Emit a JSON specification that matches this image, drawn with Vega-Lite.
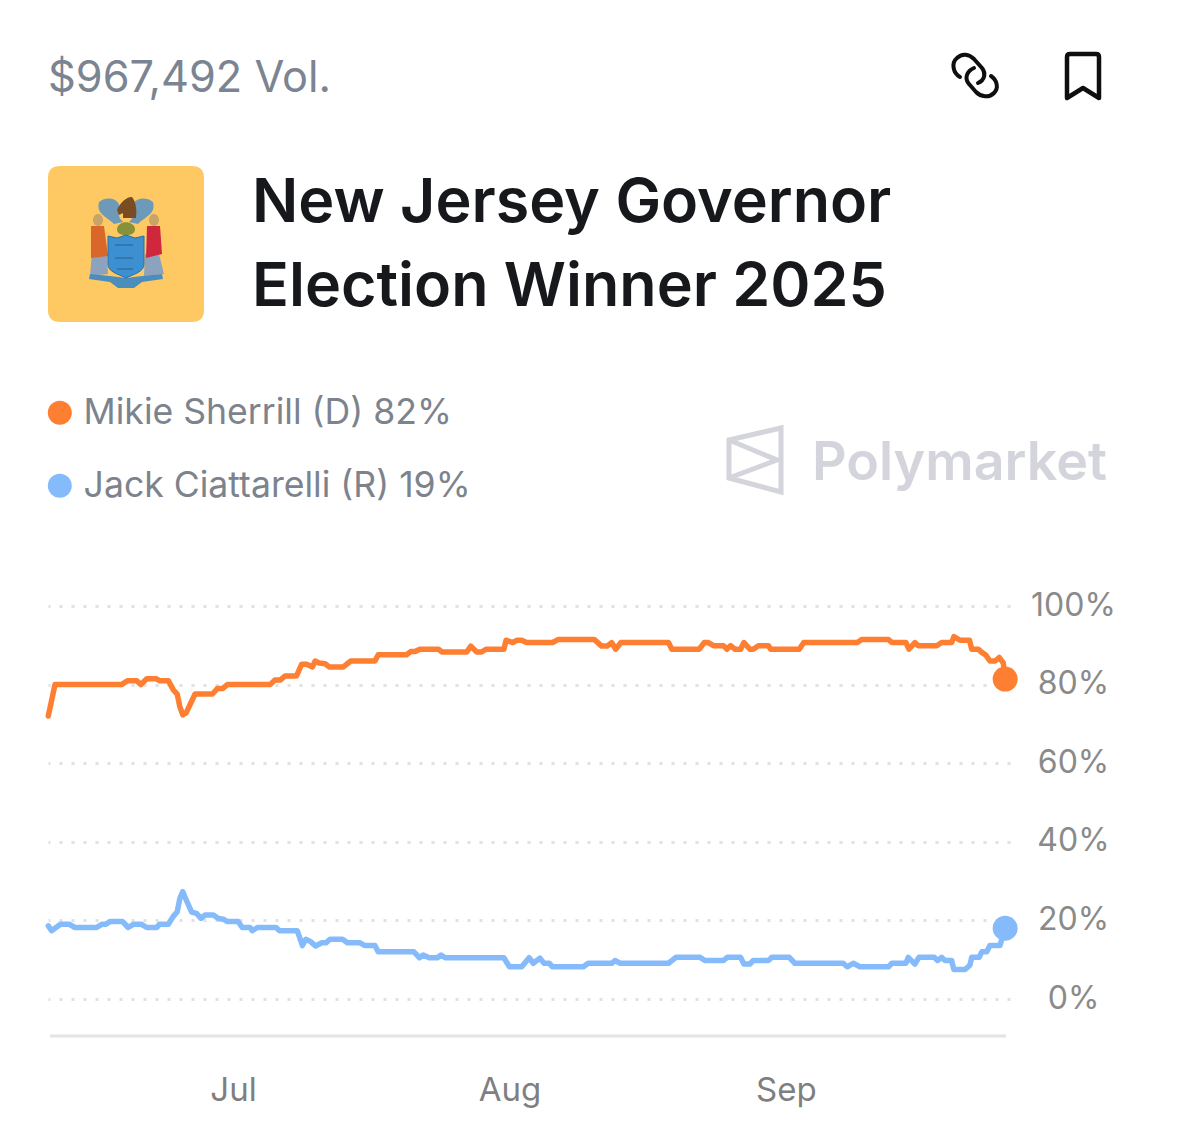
{
  "$schema": "https://vega.github.io/schema/vega-lite/v6.json",
  "width": 962,
  "height": 430,
  "padding": {"left": 48, "top": 606, "right": 169, "bottom": 100},
  "autosize": "none",
  "background": "#ffffff",
  "view": {"stroke": null},
  "title": {
    "text": ["New Jersey Governor", "Election Winner 2025"],
    "anchor": "start",
    "frame": "group",
    "dx": 204,
    "offset": -272,
    "font": "Inter",
    "fontSize": 61,
    "fontWeight": 600,
    "lineHeight": 84,
    "color": "#17181c"
  },
  "data": {"values": [
    {"date":"2025-06-10 07:00","series":"Mikie Sherrill (D) 82%","value":72},
    {"date":"2025-06-11 01:00","series":"Mikie Sherrill (D) 82%","value":80},
    {"date":"2025-06-18 12:00","series":"Mikie Sherrill (D) 82%","value":80},
    {"date":"2025-06-19 04:00","series":"Mikie Sherrill (D) 82%","value":81},
    {"date":"2025-06-20 05:00","series":"Mikie Sherrill (D) 82%","value":81},
    {"date":"2025-06-20 16:00","series":"Mikie Sherrill (D) 82%","value":80},
    {"date":"2025-06-21 08:00","series":"Mikie Sherrill (D) 82%","value":81.5},
    {"date":"2025-06-22 09:00","series":"Mikie Sherrill (D) 82%","value":81.5},
    {"date":"2025-06-22 18:00","series":"Mikie Sherrill (D) 82%","value":81},
    {"date":"2025-06-23 18:00","series":"Mikie Sherrill (D) 82%","value":81},
    {"date":"2025-06-24 08:00","series":"Mikie Sherrill (D) 82%","value":78.6},
    {"date":"2025-06-24 18:00","series":"Mikie Sherrill (D) 82%","value":77.6},
    {"date":"2025-06-25 01:00","series":"Mikie Sherrill (D) 82%","value":74.4},
    {"date":"2025-06-25 09:00","series":"Mikie Sherrill (D) 82%","value":72.3},
    {"date":"2025-06-25 18:00","series":"Mikie Sherrill (D) 82%","value":72.8},
    {"date":"2025-06-26 18:00","series":"Mikie Sherrill (D) 82%","value":77.6},
    {"date":"2025-06-28 17:00","series":"Mikie Sherrill (D) 82%","value":77.6},
    {"date":"2025-06-29 06:00","series":"Mikie Sherrill (D) 82%","value":79},
    {"date":"2025-06-29 20:00","series":"Mikie Sherrill (D) 82%","value":79},
    {"date":"2025-06-30 09:00","series":"Mikie Sherrill (D) 82%","value":80},
    {"date":"2025-07-05 04:00","series":"Mikie Sherrill (D) 82%","value":80},
    {"date":"2025-07-05 17:00","series":"Mikie Sherrill (D) 82%","value":81.2},
    {"date":"2025-07-06 08:00","series":"Mikie Sherrill (D) 82%","value":81.2},
    {"date":"2025-07-06 20:00","series":"Mikie Sherrill (D) 82%","value":82.2},
    {"date":"2025-07-08 03:00","series":"Mikie Sherrill (D) 82%","value":82.2},
    {"date":"2025-07-08 17:00","series":"Mikie Sherrill (D) 82%","value":85.2},
    {"date":"2025-07-09 06:00","series":"Mikie Sherrill (D) 82%","value":85.2},
    {"date":"2025-07-09 22:00","series":"Mikie Sherrill (D) 82%","value":84.5},
    {"date":"2025-07-10 05:00","series":"Mikie Sherrill (D) 82%","value":86},
    {"date":"2025-07-10 16:00","series":"Mikie Sherrill (D) 82%","value":85.5},
    {"date":"2025-07-11 08:00","series":"Mikie Sherrill (D) 82%","value":85.3},
    {"date":"2025-07-11 19:00","series":"Mikie Sherrill (D) 82%","value":84.5},
    {"date":"2025-07-13 09:00","series":"Mikie Sherrill (D) 82%","value":84.5},
    {"date":"2025-07-14 05:00","series":"Mikie Sherrill (D) 82%","value":86},
    {"date":"2025-07-16 22:00","series":"Mikie Sherrill (D) 82%","value":86},
    {"date":"2025-07-17 07:00","series":"Mikie Sherrill (D) 82%","value":87.6},
    {"date":"2025-07-20 11:00","series":"Mikie Sherrill (D) 82%","value":87.6},
    {"date":"2025-07-20 22:00","series":"Mikie Sherrill (D) 82%","value":88.4},
    {"date":"2025-07-21 10:00","series":"Mikie Sherrill (D) 82%","value":88.4},
    {"date":"2025-07-21 23:00","series":"Mikie Sherrill (D) 82%","value":89},
    {"date":"2025-07-24 01:00","series":"Mikie Sherrill (D) 82%","value":89},
    {"date":"2025-07-24 10:00","series":"Mikie Sherrill (D) 82%","value":88.3},
    {"date":"2025-07-27 05:00","series":"Mikie Sherrill (D) 82%","value":88.3},
    {"date":"2025-07-27 16:00","series":"Mikie Sherrill (D) 82%","value":89.8},
    {"date":"2025-07-28 08:00","series":"Mikie Sherrill (D) 82%","value":88.3},
    {"date":"2025-07-28 21:00","series":"Mikie Sherrill (D) 82%","value":88.3},
    {"date":"2025-07-29 09:00","series":"Mikie Sherrill (D) 82%","value":89},
    {"date":"2025-07-31 09:00","series":"Mikie Sherrill (D) 82%","value":89},
    {"date":"2025-07-31 15:00","series":"Mikie Sherrill (D) 82%","value":91.3},
    {"date":"2025-08-01 09:00","series":"Mikie Sherrill (D) 82%","value":90.7},
    {"date":"2025-08-01 21:00","series":"Mikie Sherrill (D) 82%","value":91.3},
    {"date":"2025-08-02 09:00","series":"Mikie Sherrill (D) 82%","value":91.3},
    {"date":"2025-08-02 22:00","series":"Mikie Sherrill (D) 82%","value":90.7},
    {"date":"2025-08-05 20:00","series":"Mikie Sherrill (D) 82%","value":90.7},
    {"date":"2025-08-06 12:00","series":"Mikie Sherrill (D) 82%","value":91.5},
    {"date":"2025-08-10 12:00","series":"Mikie Sherrill (D) 82%","value":91.5},
    {"date":"2025-08-11 08:00","series":"Mikie Sherrill (D) 82%","value":89.8},
    {"date":"2025-08-11 23:00","series":"Mikie Sherrill (D) 82%","value":89.8},
    {"date":"2025-08-12 11:00","series":"Mikie Sherrill (D) 82%","value":90.7},
    {"date":"2025-08-12 22:00","series":"Mikie Sherrill (D) 82%","value":89},
    {"date":"2025-08-13 12:00","series":"Mikie Sherrill (D) 82%","value":90.7},
    {"date":"2025-08-18 20:00","series":"Mikie Sherrill (D) 82%","value":90.7},
    {"date":"2025-08-19 05:00","series":"Mikie Sherrill (D) 82%","value":89},
    {"date":"2025-08-22 07:00","series":"Mikie Sherrill (D) 82%","value":89},
    {"date":"2025-08-22 20:00","series":"Mikie Sherrill (D) 82%","value":90.7},
    {"date":"2025-08-23 07:00","series":"Mikie Sherrill (D) 82%","value":90.7},
    {"date":"2025-08-23 21:00","series":"Mikie Sherrill (D) 82%","value":89.9},
    {"date":"2025-08-25 00:00","series":"Mikie Sherrill (D) 82%","value":89.9},
    {"date":"2025-08-25 09:00","series":"Mikie Sherrill (D) 82%","value":89},
    {"date":"2025-08-25 19:00","series":"Mikie Sherrill (D) 82%","value":89.9},
    {"date":"2025-08-26 07:00","series":"Mikie Sherrill (D) 82%","value":89},
    {"date":"2025-08-26 22:00","series":"Mikie Sherrill (D) 82%","value":89},
    {"date":"2025-08-27 07:00","series":"Mikie Sherrill (D) 82%","value":90.7},
    {"date":"2025-08-27 23:00","series":"Mikie Sherrill (D) 82%","value":89},
    {"date":"2025-08-28 08:00","series":"Mikie Sherrill (D) 82%","value":89},
    {"date":"2025-08-28 22:00","series":"Mikie Sherrill (D) 82%","value":89.9},
    {"date":"2025-08-30 01:00","series":"Mikie Sherrill (D) 82%","value":89.9},
    {"date":"2025-08-30 07:00","series":"Mikie Sherrill (D) 82%","value":89},
    {"date":"2025-09-02 12:00","series":"Mikie Sherrill (D) 82%","value":89},
    {"date":"2025-09-03 00:00","series":"Mikie Sherrill (D) 82%","value":90.7},
    {"date":"2025-09-09 00:00","series":"Mikie Sherrill (D) 82%","value":90.7},
    {"date":"2025-09-09 12:00","series":"Mikie Sherrill (D) 82%","value":91.5},
    {"date":"2025-09-12 12:00","series":"Mikie Sherrill (D) 82%","value":91.5},
    {"date":"2025-09-12 21:00","series":"Mikie Sherrill (D) 82%","value":90.7},
    {"date":"2025-09-14 11:00","series":"Mikie Sherrill (D) 82%","value":90.7},
    {"date":"2025-09-14 19:00","series":"Mikie Sherrill (D) 82%","value":89},
    {"date":"2025-09-15 11:00","series":"Mikie Sherrill (D) 82%","value":90.7},
    {"date":"2025-09-15 20:00","series":"Mikie Sherrill (D) 82%","value":89.9},
    {"date":"2025-09-17 22:00","series":"Mikie Sherrill (D) 82%","value":89.9},
    {"date":"2025-09-18 11:00","series":"Mikie Sherrill (D) 82%","value":90.7},
    {"date":"2025-09-19 14:00","series":"Mikie Sherrill (D) 82%","value":90.7},
    {"date":"2025-09-19 20:00","series":"Mikie Sherrill (D) 82%","value":92.2},
    {"date":"2025-09-20 12:00","series":"Mikie Sherrill (D) 82%","value":91.3},
    {"date":"2025-09-21 14:00","series":"Mikie Sherrill (D) 82%","value":91.3},
    {"date":"2025-09-21 20:00","series":"Mikie Sherrill (D) 82%","value":89},
    {"date":"2025-09-22 14:00","series":"Mikie Sherrill (D) 82%","value":89},
    {"date":"2025-09-22 23:00","series":"Mikie Sherrill (D) 82%","value":88.2},
    {"date":"2025-09-23 10:00","series":"Mikie Sherrill (D) 82%","value":87.5},
    {"date":"2025-09-23 21:00","series":"Mikie Sherrill (D) 82%","value":86},
    {"date":"2025-09-24 11:00","series":"Mikie Sherrill (D) 82%","value":86},
    {"date":"2025-09-24 22:00","series":"Mikie Sherrill (D) 82%","value":86.9},
    {"date":"2025-09-25 09:00","series":"Mikie Sherrill (D) 82%","value":85.5},
    {"date":"2025-09-25 14:00","series":"Mikie Sherrill (D) 82%","value":81.4},
    {"date":"2025-06-10 07:00","series":"Jack Ciattarelli (R) 19%","value":18.6},
    {"date":"2025-06-10 16:00","series":"Jack Ciattarelli (R) 19%","value":17.4},
    {"date":"2025-06-11 01:00","series":"Jack Ciattarelli (R) 19%","value":18},
    {"date":"2025-06-11 16:00","series":"Jack Ciattarelli (R) 19%","value":19},
    {"date":"2025-06-12 16:00","series":"Jack Ciattarelli (R) 19%","value":19},
    {"date":"2025-06-13 07:00","series":"Jack Ciattarelli (R) 19%","value":18.2},
    {"date":"2025-06-15 17:00","series":"Jack Ciattarelli (R) 19%","value":18.2},
    {"date":"2025-06-16 07:00","series":"Jack Ciattarelli (R) 19%","value":19},
    {"date":"2025-06-16 17:00","series":"Jack Ciattarelli (R) 19%","value":19},
    {"date":"2025-06-17 05:00","series":"Jack Ciattarelli (R) 19%","value":19.7},
    {"date":"2025-06-18 15:00","series":"Jack Ciattarelli (R) 19%","value":19.7},
    {"date":"2025-06-19 06:00","series":"Jack Ciattarelli (R) 19%","value":18.2},
    {"date":"2025-06-19 20:00","series":"Jack Ciattarelli (R) 19%","value":19},
    {"date":"2025-06-20 18:00","series":"Jack Ciattarelli (R) 19%","value":19},
    {"date":"2025-06-21 08:00","series":"Jack Ciattarelli (R) 19%","value":18.2},
    {"date":"2025-06-22 11:00","series":"Jack Ciattarelli (R) 19%","value":18.2},
    {"date":"2025-06-22 18:00","series":"Jack Ciattarelli (R) 19%","value":19},
    {"date":"2025-06-23 18:00","series":"Jack Ciattarelli (R) 19%","value":19},
    {"date":"2025-06-24 08:00","series":"Jack Ciattarelli (R) 19%","value":21.1},
    {"date":"2025-06-24 18:00","series":"Jack Ciattarelli (R) 19%","value":22.2},
    {"date":"2025-06-25 01:00","series":"Jack Ciattarelli (R) 19%","value":25.6},
    {"date":"2025-06-25 09:00","series":"Jack Ciattarelli (R) 19%","value":27.3},
    {"date":"2025-06-25 18:00","series":"Jack Ciattarelli (R) 19%","value":25.2},
    {"date":"2025-06-26 09:00","series":"Jack Ciattarelli (R) 19%","value":22.1},
    {"date":"2025-06-26 22:00","series":"Jack Ciattarelli (R) 19%","value":21.8},
    {"date":"2025-06-27 10:00","series":"Jack Ciattarelli (R) 19%","value":20.5},
    {"date":"2025-06-27 21:00","series":"Jack Ciattarelli (R) 19%","value":21.4},
    {"date":"2025-06-28 19:00","series":"Jack Ciattarelli (R) 19%","value":21.4},
    {"date":"2025-06-29 09:00","series":"Jack Ciattarelli (R) 19%","value":20.5},
    {"date":"2025-06-29 22:00","series":"Jack Ciattarelli (R) 19%","value":20.3},
    {"date":"2025-06-30 09:00","series":"Jack Ciattarelli (R) 19%","value":19.7},
    {"date":"2025-07-01 14:00","series":"Jack Ciattarelli (R) 19%","value":19.7},
    {"date":"2025-07-02 01:00","series":"Jack Ciattarelli (R) 19%","value":18.2},
    {"date":"2025-07-02 22:00","series":"Jack Ciattarelli (R) 19%","value":18.2},
    {"date":"2025-07-03 04:00","series":"Jack Ciattarelli (R) 19%","value":17.4},
    {"date":"2025-07-03 18:00","series":"Jack Ciattarelli (R) 19%","value":18.2},
    {"date":"2025-07-05 20:00","series":"Jack Ciattarelli (R) 19%","value":18.2},
    {"date":"2025-07-06 05:00","series":"Jack Ciattarelli (R) 19%","value":17.4},
    {"date":"2025-07-08 05:00","series":"Jack Ciattarelli (R) 19%","value":17.4},
    {"date":"2025-07-08 19:00","series":"Jack Ciattarelli (R) 19%","value":13.6},
    {"date":"2025-07-09 04:00","series":"Jack Ciattarelli (R) 19%","value":15.2},
    {"date":"2025-07-09 17:00","series":"Jack Ciattarelli (R) 19%","value":14.6},
    {"date":"2025-07-10 06:00","series":"Jack Ciattarelli (R) 19%","value":13.5},
    {"date":"2025-07-10 23:00","series":"Jack Ciattarelli (R) 19%","value":14.3},
    {"date":"2025-07-11 10:00","series":"Jack Ciattarelli (R) 19%","value":14.3},
    {"date":"2025-07-11 21:00","series":"Jack Ciattarelli (R) 19%","value":15.2},
    {"date":"2025-07-13 07:00","series":"Jack Ciattarelli (R) 19%","value":15.2},
    {"date":"2025-07-13 20:00","series":"Jack Ciattarelli (R) 19%","value":14.3},
    {"date":"2025-07-15 06:00","series":"Jack Ciattarelli (R) 19%","value":14.3},
    {"date":"2025-07-15 19:00","series":"Jack Ciattarelli (R) 19%","value":13.6},
    {"date":"2025-07-16 22:00","series":"Jack Ciattarelli (R) 19%","value":13.6},
    {"date":"2025-07-17 07:00","series":"Jack Ciattarelli (R) 19%","value":12},
    {"date":"2025-07-21 07:00","series":"Jack Ciattarelli (R) 19%","value":12},
    {"date":"2025-07-21 22:00","series":"Jack Ciattarelli (R) 19%","value":10.5},
    {"date":"2025-07-22 08:00","series":"Jack Ciattarelli (R) 19%","value":11.2},
    {"date":"2025-07-23 00:00","series":"Jack Ciattarelli (R) 19%","value":10.5},
    {"date":"2025-07-23 22:00","series":"Jack Ciattarelli (R) 19%","value":10.5},
    {"date":"2025-07-24 08:00","series":"Jack Ciattarelli (R) 19%","value":11.2},
    {"date":"2025-07-24 19:00","series":"Jack Ciattarelli (R) 19%","value":10.5},
    {"date":"2025-07-31 09:00","series":"Jack Ciattarelli (R) 19%","value":10.5},
    {"date":"2025-08-01 00:00","series":"Jack Ciattarelli (R) 19%","value":8.2},
    {"date":"2025-08-02 09:00","series":"Jack Ciattarelli (R) 19%","value":8.2},
    {"date":"2025-08-03 05:00","series":"Jack Ciattarelli (R) 19%","value":10.5},
    {"date":"2025-08-03 16:00","series":"Jack Ciattarelli (R) 19%","value":9.1},
    {"date":"2025-08-04 10:00","series":"Jack Ciattarelli (R) 19%","value":10.4},
    {"date":"2025-08-04 21:00","series":"Jack Ciattarelli (R) 19%","value":9.1},
    {"date":"2025-08-05 11:00","series":"Jack Ciattarelli (R) 19%","value":9.1},
    {"date":"2025-08-05 20:00","series":"Jack Ciattarelli (R) 19%","value":8.2},
    {"date":"2025-08-09 07:00","series":"Jack Ciattarelli (R) 19%","value":8.2},
    {"date":"2025-08-09 20:00","series":"Jack Ciattarelli (R) 19%","value":9.1},
    {"date":"2025-08-12 11:00","series":"Jack Ciattarelli (R) 19%","value":9.1},
    {"date":"2025-08-12 20:00","series":"Jack Ciattarelli (R) 19%","value":9.8},
    {"date":"2025-08-13 10:00","series":"Jack Ciattarelli (R) 19%","value":9.1},
    {"date":"2025-08-18 20:00","series":"Jack Ciattarelli (R) 19%","value":9.1},
    {"date":"2025-08-19 16:00","series":"Jack Ciattarelli (R) 19%","value":10.6},
    {"date":"2025-08-22 09:00","series":"Jack Ciattarelli (R) 19%","value":10.6},
    {"date":"2025-08-22 22:00","series":"Jack Ciattarelli (R) 19%","value":9.8},
    {"date":"2025-08-25 00:00","series":"Jack Ciattarelli (R) 19%","value":9.8},
    {"date":"2025-08-25 10:00","series":"Jack Ciattarelli (R) 19%","value":10.6},
    {"date":"2025-08-26 22:00","series":"Jack Ciattarelli (R) 19%","value":10.6},
    {"date":"2025-08-27 07:00","series":"Jack Ciattarelli (R) 19%","value":8.9},
    {"date":"2025-08-27 23:00","series":"Jack Ciattarelli (R) 19%","value":8.9},
    {"date":"2025-08-28 08:00","series":"Jack Ciattarelli (R) 19%","value":9.8},
    {"date":"2025-08-30 01:00","series":"Jack Ciattarelli (R) 19%","value":9.8},
    {"date":"2025-08-30 10:00","series":"Jack Ciattarelli (R) 19%","value":10.6},
    {"date":"2025-09-01 09:00","series":"Jack Ciattarelli (R) 19%","value":10.6},
    {"date":"2025-09-02 00:00","series":"Jack Ciattarelli (R) 19%","value":9.1},
    {"date":"2025-09-07 10:00","series":"Jack Ciattarelli (R) 19%","value":9.1},
    {"date":"2025-09-07 21:00","series":"Jack Ciattarelli (R) 19%","value":8.2},
    {"date":"2025-09-08 13:00","series":"Jack Ciattarelli (R) 19%","value":9.1},
    {"date":"2025-09-09 07:00","series":"Jack Ciattarelli (R) 19%","value":8.2},
    {"date":"2025-09-12 12:00","series":"Jack Ciattarelli (R) 19%","value":8.2},
    {"date":"2025-09-12 21:00","series":"Jack Ciattarelli (R) 19%","value":9.1},
    {"date":"2025-09-14 11:00","series":"Jack Ciattarelli (R) 19%","value":9.1},
    {"date":"2025-09-14 17:00","series":"Jack Ciattarelli (R) 19%","value":10.6},
    {"date":"2025-09-15 11:00","series":"Jack Ciattarelli (R) 19%","value":8.9},
    {"date":"2025-09-15 22:00","series":"Jack Ciattarelli (R) 19%","value":10.6},
    {"date":"2025-09-17 15:00","series":"Jack Ciattarelli (R) 19%","value":10.6},
    {"date":"2025-09-18 00:00","series":"Jack Ciattarelli (R) 19%","value":9.8},
    {"date":"2025-09-18 11:00","series":"Jack Ciattarelli (R) 19%","value":10.6},
    {"date":"2025-09-18 20:00","series":"Jack Ciattarelli (R) 19%","value":9.8},
    {"date":"2025-09-19 14:00","series":"Jack Ciattarelli (R) 19%","value":9.8},
    {"date":"2025-09-19 20:00","series":"Jack Ciattarelli (R) 19%","value":7.5},
    {"date":"2025-09-21 02:00","series":"Jack Ciattarelli (R) 19%","value":7.5},
    {"date":"2025-09-21 15:00","series":"Jack Ciattarelli (R) 19%","value":8.6},
    {"date":"2025-09-21 20:00","series":"Jack Ciattarelli (R) 19%","value":10.6},
    {"date":"2025-09-22 16:00","series":"Jack Ciattarelli (R) 19%","value":10.6},
    {"date":"2025-09-22 23:00","series":"Jack Ciattarelli (R) 19%","value":12},
    {"date":"2025-09-23 12:00","series":"Jack Ciattarelli (R) 19%","value":12},
    {"date":"2025-09-23 21:00","series":"Jack Ciattarelli (R) 19%","value":13.6},
    {"date":"2025-09-25 00:00","series":"Jack Ciattarelli (R) 19%","value":13.6},
    {"date":"2025-09-25 14:00","series":"Jack Ciattarelli (R) 19%","value":18}
  ]},
  "encoding": {
    "x": {
      "field": "date",
      "type": "temporal",
      "scale": {"domain": ["2025-06-10 06:15", "2025-09-26 03:00"]},
      "axis": {
        "title": null,
        "grid": false,
        "ticks": false,
        "domain": false,
        "tickCount": "month",
        "format": "%b",
        "labelFont": "Inter",
        "labelFontSize": 33,
        "labelColor": "#7f7f7f",
        "labelPadding": 38,
        "labelFlush": false
      }
    },
    "y": {
      "field": "value",
      "type": "quantitative",
      "scale": {"domain": [-9.41, 100], "nice": false},
      "axis": {
        "title": null,
        "orient": "right",
        "values": [0, 20, 40, 60, 80, 100],
        "labelExpr": "datum.value + '%'",
        "grid": true,
        "gridColor": "#dfe1e5",
        "gridWidth": 3,
        "gridDash": [3, 9],
        "ticks": false,
        "domain": false,
        "labelFont": "Inter",
        "labelFontSize": 32,
        "labelColor": "#8a8a8a",
        "labelAlign": "center",
        "labelPadding": 63,
        "labelOffset": -1
      }
    },
    "color": {
      "field": "series",
      "type": "nominal",
      "scale": {
        "domain": ["Mikie Sherrill (D) 82%", "Jack Ciattarelli (R) 19%"],
        "range": ["#ff7f32", "#85bbfb"]
      },
      "legend": {
        "title": null,
        "orient": "none",
        "legendX": -6,
        "legendY": -211,
        "padding": 0,
        "symbolType": "circle",
        "symbolSize": 576,
        "symbolStrokeWidth": 0,
        "labelFont": "Inter",
        "labelFontSize": 35.6,
        "labelColor": "#7d838d",
        "labelOffset": 6,
        "rowPadding": 36,
        "labelLimit": 500
      }
    }
  },
  "layer": [
    {
      "data": {"values": [
        {"date": "2025-06-10 12:00", "value": -9.41},
        {"date": "2025-09-25 16:00", "value": -9.41}
      ]},
      "mark": {"type": "line", "stroke": "#e4e4e4", "strokeWidth": 3},
      "encoding": {"color": null}
    },
    {"mark": {"type": "line", "strokeWidth": 5.5, "strokeJoin": "round", "strokeCap": "round"}},
    {
      "mark": {"type": "circle", "size": 625, "opacity": 1},
      "encoding": {
        "x": {"aggregate": "max", "field": "date", "type": "temporal"},
        "y": {"aggregate": {"argmax": "date"}, "field": "value", "type": "quantitative"}
      }
    },
    {
      "data": {"values": [{"label": "$967,492 Vol."}]},
      "mark": {"type": "text", "x": 0, "y": -527, "align": "left", "font": "Inter", "fontSize": 43.3, "color": "#7b8492"},
      "encoding": {"x": null, "y": null, "color": null, "text": {"field": "label"}}
    },
    {
      "data": {"values": [{"label": "Polymarket"}]},
      "mark": {"type": "text", "x": 764, "y": -142, "align": "left", "font": "Inter", "fontSize": 53.8, "fontWeight": 600, "color": "#d4d4dc"},
      "encoding": {"x": null, "y": null, "color": null, "text": {"field": "label"}}
    },
    {
      "data": {"values": [{"icon": "logo"}]},
      "mark": {"type": "point", "x": 707, "y": -146, "size": 4, "filled": false, "opacity": 1, "strokeWidth": 5, "stroke": "#d4d4dc", "shape": "M-26,-20 L26,-32 L26,32 L-26,18 Z M-26,-20 L22,0 L-26,18"},
      "encoding": {"x": null, "y": null, "color": null}
    },
    {
      "data": {"values": [{"icon": "link"}]},
      "mark": {"type": "point", "x": 927, "y": -530, "size": 4, "filled": false, "opacity": 1, "strokeWidth": 4, "stroke": "#0f0f12", "strokeCap": "round", "shape": "M-1,-8 C-8,-5 -11,2 -6,8 L1,16 C6,21 14,22 19,17 C24,12 22,4 16,0 M-15,1 C-22,-3 -24,-13 -18,-18 C-13,-23 -6,-22 -1,-17 L7,-8 C11,-3 10,4 3,7"},
      "encoding": {"x": null, "y": null, "color": null}
    },
    {
      "data": {"values": [{"icon": "bookmark"}]},
      "mark": {"type": "point", "x": 1035, "y": -530, "size": 4, "filled": false, "opacity": 1, "strokeWidth": 4.5, "stroke": "#0f0f12", "strokeJoin": "round", "shape": "M-16,22 L-16,-19 Q-16,-22 -13,-22 L13,-22 Q16,-22 16,-19 L16,22 L0,12 Z"},
      "encoding": {"x": null, "y": null, "color": null}
    },
    {
      "data": {"values": [{"icon": "flag"}]},
      "mark": {"type": "point", "x": 78, "y": -362, "size": 4, "filled": true, "opacity": 1, "fill": "#fec863", "shape": "M-66,-78 L66,-78 Q78,-78 78,-66 L78,66 Q78,78 66,78 L-66,78 Q-78,78 -78,66 L-78,-66 Q-78,-78 -66,-78 Z"},
      "encoding": {"x": null, "y": null, "color": null}
    },
    {
      "data": {"values": [{"icon": "scrolls"}]},
      "mark": {"type": "point", "x": 78, "y": -362, "size": 4, "filled": true, "opacity": 1, "fill": "#6c9ab8", "shape": "M-27,-42 C-20,-48 -10,-46 -7,-40 C-6,-34 -10,-28 -3,-22 L-12,-20 C-20,-28 -30,-30 -27,-42 Z M27,-42 C20,-48 10,-46 7,-40 C6,-34 10,-28 3,-22 L12,-20 C20,-28 30,-30 27,-42 Z"},
      "encoding": {"x": null, "y": null, "color": null}
    },
    {
      "data": {"values": [{"icon": "horse"}]},
      "mark": {"type": "point", "x": 78, "y": -362, "size": 4, "filled": true, "opacity": 1, "fill": "#7a4c22", "shape": "M-9,-34 C-6,-42 2,-48 6,-47 C10,-42 11,-34 10,-26 L-3,-26 L-3,-31 L-7,-29 Z"},
      "encoding": {"x": null, "y": null, "color": null}
    },
    {
      "data": {"values": [{"icon": "helmet"}]},
      "mark": {"type": "point", "x": 78, "y": -362, "size": 4, "filled": true, "opacity": 1, "fill": "#86913a", "shape": "M-9,-15 C-8,-24 8,-24 9,-15 C9,-11 6,-9 0,-9 C-6,-9 -9,-11 -9,-15 Z"},
      "encoding": {"x": null, "y": null, "color": null}
    },
    {
      "data": {"values": [{"icon": "rocks"}]},
      "mark": {"type": "point", "x": 78, "y": -362, "size": 4, "filled": true, "opacity": 1, "fill": "#8ca3bf", "shape": "M-34,8 L-19,8 L-18,30 L-36,32 Z M19,10 L32,6 L38,30 L18,32 Z"},
      "encoding": {"x": null, "y": null, "color": null}
    },
    {
      "data": {"values": [{"icon": "orange figure"}]},
      "mark": {"type": "point", "x": 78, "y": -362, "size": 4, "filled": true, "opacity": 1, "fill": "#d9662a", "shape": "M-35,-18 L-22,-18 L-18,12 L-35,14 Z"},
      "encoding": {"x": null, "y": null, "color": null}
    },
    {
      "data": {"values": [{"icon": "red figure"}]},
      "mark": {"type": "point", "x": 78, "y": -362, "size": 4, "filled": true, "opacity": 1, "fill": "#d0273d", "shape": "M21,-18 L34,-18 L36,10 L20,14 Z"},
      "encoding": {"x": null, "y": null, "color": null}
    },
    {
      "data": {"values": [{"icon": "heads"}]},
      "mark": {"type": "point", "x": 78, "y": -362, "size": 4, "filled": true, "opacity": 1, "fill": "#c8a468", "shape": "M-33,-24 A5,6 0 1 1 -23,-24 A5,6 0 1 1 -33,-24 Z M23,-24 A5,6 0 1 1 33,-24 A5,6 0 1 1 23,-24 Z"},
      "encoding": {"x": null, "y": null, "color": null}
    },
    {
      "data": {"values": [{"icon": "banner"}]},
      "mark": {"type": "point", "x": 78, "y": -362, "size": 4, "filled": true, "opacity": 1, "fill": "#4b8dbd", "shape": "M-36,30 L-16,32 L0,34 L16,32 L36,30 L37,35 L16,38 L8,44 L-8,44 L-16,38 L-37,35 Z"},
      "encoding": {"x": null, "y": null, "color": null}
    },
    {
      "data": {"values": [{"icon": "shield"}]},
      "mark": {"type": "point", "x": 78, "y": -362, "size": 4, "filled": true, "opacity": 1, "fill": "#3c90d2", "stroke": "#2f6f9f", "strokeWidth": 1, "shape": "M-18,-8 L-9,-6 L0,-9 L9,-6 L18,-8 L18,20 C18,28 8,30 0,34 C-8,30 -18,28 -18,20 Z"},
      "encoding": {"x": null, "y": null, "color": null}
    },
    {
      "data": {"values": [{"icon": "shield lines"}]},
      "mark": {"type": "point", "x": 78, "y": -362, "size": 4, "filled": false, "opacity": 1, "stroke": "#2d5f86", "strokeWidth": 1.2, "shape": "M-11,1 L7,1 M-11,14 L7,14 M-9,25 L7,25"},
      "encoding": {"x": null, "y": null, "color": null}
    }
  ]
}
